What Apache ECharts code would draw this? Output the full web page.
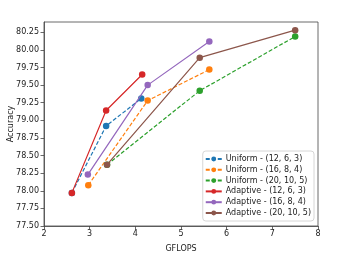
<!DOCTYPE html>
<html><head><meta charset="utf-8">
<script src="https://cdn.jsdelivr.net/npm/echarts@6/dist/echarts.min.js"></script>
<style>html,body{margin:0;padding:0;background:#fff}#c{width:354px;height:255px}</style>
</head><body><div id="c"></div>
<script>
const seriesNames = ["Uniform - (12, 6, 3)","Uniform - (16, 8, 4)","Uniform - (20, 10, 5)","Adaptive - (12, 6, 3)","Adaptive - (16, 8, 4)","Adaptive - (20, 10, 5)"];
const uniform12x = [2.61, 3.36, 4.13];
const uniform12y = [77.97, 78.92, 79.31];
const uniform16x = [2.97, 4.27, 5.62];
const uniform16y = [78.08, 79.28, 79.72];
const uniform20x = [3.38, 5.41, 7.50];
const uniform20y = [78.37, 79.42, 80.19];
const adaptive12x = [2.61, 3.36, 4.15];
const adaptive12y = [77.97, 79.14, 79.65];
const adaptive16x = [2.96, 4.27, 5.62];
const adaptive16y = [78.23, 79.50, 80.12];
const adaptive20x = [3.38, 5.41, 7.50];
const adaptive20y = [78.37, 79.89, 80.28];
const xTicks = [2,3,4,5,6,7,8];
const colors = ["#1f77b4","#ff7f0e","#2ca02c","#d62728","#9467bd","#8c564b"];
const xs = [uniform12x,uniform16x,uniform20x,adaptive12x,adaptive16x,adaptive20x];
const ys = [uniform12y,uniform16y,uniform20y,adaptive12y,adaptive16y,adaptive20y];
const font = "DejaVu Sans";
const series = seriesNames.map((n,i)=>({
  name:n, type:'line',
  data: xs[i].map((x,j)=>[x, ys[i][j]]),
  symbol:'circle', symbolSize:6.5,
  itemStyle:{color:colors[i]},
  lineStyle:{color:colors[i], width:1.2, type: i<3 ? [4,2] : 'solid'},
  z: 2+i
}));
const chart = echarts.init(document.getElementById('c'), null, {renderer:'canvas'});
chart.setOption({
  animation:false,
  backgroundColor:'#fff',
  textStyle:{fontFamily:font},
  grid:{left:44, right:36, top:22, bottom:29, containLabel:false, outerBoundsMode:'none',
    show:true, borderColor:'#444', borderWidth:0.8, backgroundColor:'transparent'},
  xAxis:{type:'value', min:2, max:8, interval:1,
    name:'GFLOPS', nameLocation:'middle', nameGap:19, nameMoveOverlap:false,
    nameTextStyle:{fontFamily:font, fontSize:8, color:'#222'},
    axisLine:{show:true, lineStyle:{color:'#444', width:0.8}},
    axisTick:{show:true, length:3.5, lineStyle:{color:'#444', width:0.8}},
    axisLabel:{fontFamily:font, fontSize:8, color:'#222', margin:4},
    splitLine:{show:false}},
  yAxis:{type:'value', min:77.5, max:80.396, interval:0.25,
    name:'Accuracy', nameLocation:'middle', nameGap:29, nameMoveOverlap:false,
    nameTextStyle:{fontFamily:font, fontSize:8, color:'#222'},
    axisLine:{show:true, lineStyle:{color:'#444', width:0.8}},
    axisTick:{show:true, length:3.5, lineStyle:{color:'#444', width:0.8}},
    axisLabel:{fontFamily:font, fontSize:8, color:'#222', margin:5, showMaxLabel:false,
      formatter:v=>v.toFixed(2)},
    splitLine:{show:false}},
  legend:{orient:'vertical', right:40, bottom:34, data:seriesNames,
    backgroundColor:'rgba(255,255,255,0.8)', borderColor:'#ccc', borderWidth:0.8, borderRadius:3,
    padding:[4,3,4,2], itemWidth:16, itemHeight:6, itemGap:2.8,
    textStyle:{fontFamily:font, fontSize:8, color:'#222', padding:[0,0,0,-1]}},
  series: series
});
</script></body></html>
